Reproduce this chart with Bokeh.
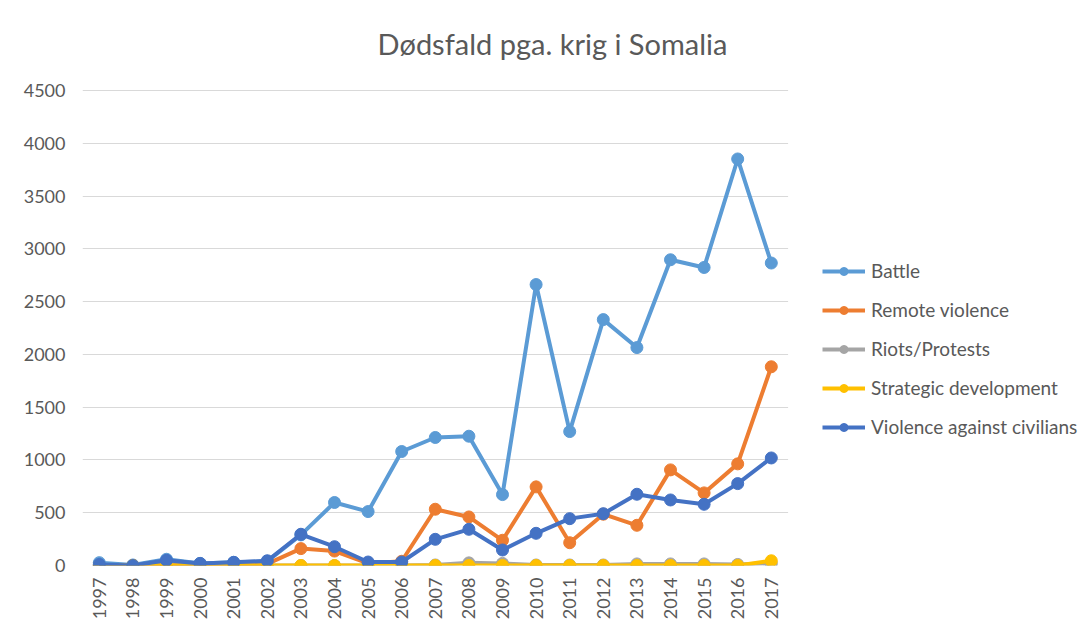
from bokeh.plotting import figure
from bokeh.models import Range1d, FixedTicker, Legend, LegendItem, Label, BoxAnnotation
from bokeh.embed import file_html
from bokeh.resources import INLINE
import math

years = list(range(1997, 2018))
battle = [27, 5, 59, 20, 30, 40, 290, 597, 511, 1080, 1213, 1225, 672, 2662, 1269, 2330, 2065, 2897, 2824, 3852, 2866]
remote = [0, 0, 10, 5, 10, 15, 160, 137, 20, 40, 533, 460, 239, 745, 216, 486, 381, 906, 688, 963, 1883]
riots = [0, 0, 0, 0, 0, 0, 0, 0, 0, 0, 5, 25, 20, 5, 5, 5, 15, 15, 15, 10, 20]
strategic = [0, 0, 0, 0, 0, 0, 0, 0, 0, 0, 0, 0, 0, 0, 0, 0, 0, 0, 0, 0, 45]
civilians = [10, 0, 49, 20, 30, 45, 296, 178, 33, 33, 248, 343, 147, 305, 444, 491, 675, 621, 580, 776, 1019]

series_names = ["Battle", "Remote violence", "Riots/Protests", "Strategic development", "Violence against civilians"]
series_values = [battle, remote, riots, strategic, civilians]
series_colors = ["#5B9BD5", "#ED7D31", "#A5A5A5", "#FFC000", "#4472C4"]
y_ticks = [0, 500, 1000, 1500, 2000, 2500, 3000, 3500, 4000, 4500]
title_text = "Dødsfald pga. krig i Somalia"

FONT = "Lato"
TXT = "#595959"

# layout (canvas pixels)
W, H = 1080, 628
FL = 82            # frame left
FB = 564.5         # frame bottom (value 0)
PX_PER_YEAR = 33.6
PX_PER_UNIT = 474.5 / 4500
x_start = years[0] - 0.5
x_end = x_start + (W - FL) / PX_PER_YEAR
y_end = FB / PX_PER_UNIT

p = figure(width=W, height=H, title=None,
           x_range=Range1d(x_start, x_end), y_range=Range1d(0, y_end),
           output_backend="svg", toolbar_location=None,
           min_border_left=FL, min_border_right=0, min_border_top=0,
           min_border_bottom=int(H - FB))
p.outline_line_color = None
p.background_fill_color = "white"
p.border_fill_color = "white"

p.xgrid.grid_line_color = None
p.ygrid.grid_line_color = "#D9D9D9"
p.ygrid.grid_line_width = 1
p.yaxis.ticker = FixedTicker(ticks=y_ticks)
p.yaxis.axis_line_color = None
p.yaxis.major_tick_line_color = None
p.yaxis.minor_tick_line_color = None
p.yaxis.major_tick_out = 0
p.yaxis.major_label_standoff = 17
p.xaxis.ticker = FixedTicker(ticks=years)
p.xaxis.axis_line_color = None
p.xaxis.major_tick_line_color = None
p.xaxis.minor_tick_line_color = None
p.xaxis.major_tick_out = 0
p.xaxis.major_label_orientation = math.pi / 2
p.xaxis.major_label_standoff = 12
for ax in (p.xaxis, p.yaxis):
    ax.major_label_text_font = FONT
    ax.major_label_text_font_size = "18px"
    ax.major_label_text_color = TXT

items = []
for name, vals, col in zip(series_names, series_values, series_colors):
    r1 = p.line(years, vals, line_color=col, line_width=4, line_join="round")
    r2 = p.scatter(years, vals, marker="circle", size=12, fill_color=col, line_color=col)
    items.append(LegendItem(label=name, renderers=[r1, r2]))

# blank the gridlines to the right of the plot area (legend zone)
p.add_layout(BoxAnnotation(left=years[-1] + 0.5, fill_color="white", fill_alpha=1.0,
                           line_alpha=0))

legend = Legend(items=items, location=(740, 127), orientation="vertical",
                glyph_width=43, glyph_height=20, label_height=20, spacing=16,
                label_standoff=6, padding=0, margin=0,
                border_line_color=None, background_fill_alpha=0,
                label_text_font=FONT, label_text_font_size="19px", label_text_color=TXT)
p.add_layout(legend, "center")

p.add_layout(Label(x=470, y=FB - 42, x_units="screen", y_units="screen", text=title_text,
                   text_align="center", text_baseline="middle", text_font=FONT,
                   text_font_size="29px", text_color=TXT))

open("out.html", "w").write(file_html(p, INLINE))
